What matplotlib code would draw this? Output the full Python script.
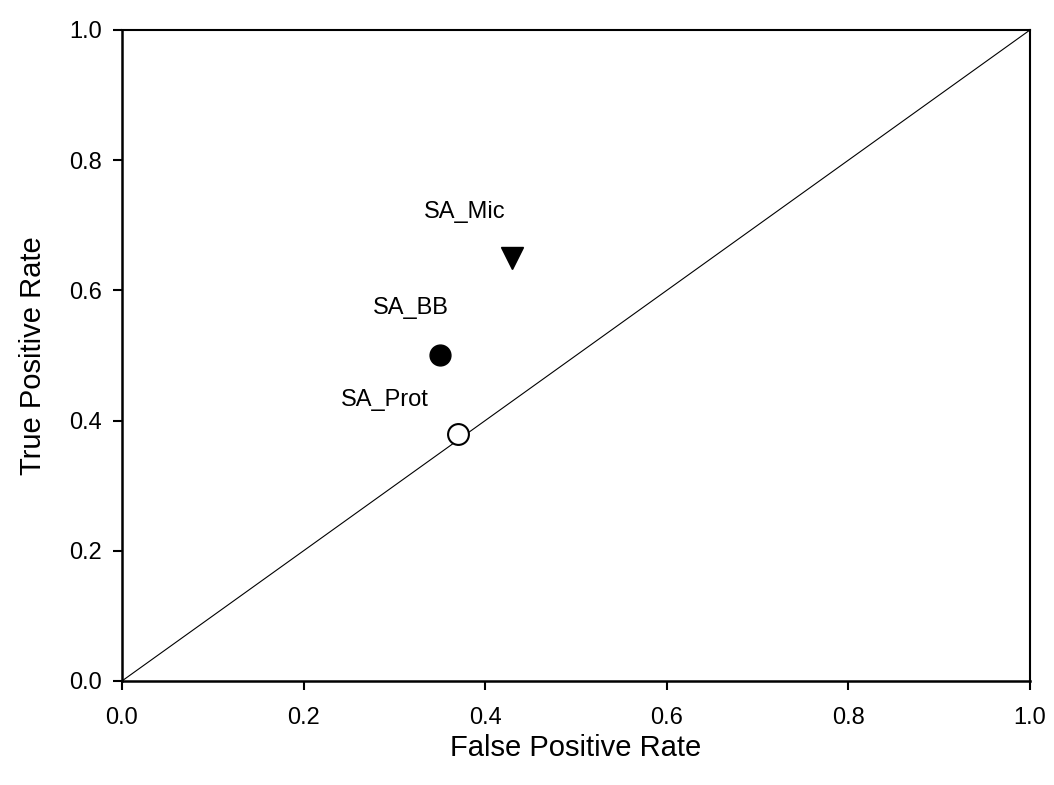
import matplotlib
matplotlib.use("Agg")
import matplotlib.pyplot as plt

# points
names = ["SA_Mic", "SA_BB", "SA_Prot"]
fpr = [0.43, 0.35, 0.37]
tpr = [0.65, 0.50, 0.38]
label_x = [0.378, 0.318, 0.290]
label_y = [0.72, 0.573, 0.432]
ticks = [0.0, 0.2, 0.4, 0.6, 0.8, 1.0]

plt.rcParams['font.family'] = ['Liberation Sans', 'DejaVu Sans']

fig = plt.figure(figsize=(10.54, 7.85), dpi=100)
ax = fig.add_axes([0.1157, 0.1325, 0.8615, 0.8293])

ax.plot([0, 1], [0, 1], color='black', linewidth=0.8)
ax.plot(fpr[0], tpr[0], marker='v', markersize=16, color='black', linestyle='none')
ax.plot(fpr[1], tpr[1], marker='o', markersize=15, color='black', linestyle='none')
ax.plot(fpr[2], tpr[2], marker='o', markersize=15, markerfacecolor='white',
        markeredgecolor='black', markeredgewidth=1.5, linestyle='none')

for n, x, y in zip(names, label_x, label_y):
    ax.text(x, y, n, ha='center', va='center', fontsize=17)

ax.set_xlim(0, 1)
ax.set_ylim(0, 1)
ax.set_xticks(ticks)
ax.set_yticks(ticks)
ax.set_xticklabels([f"{t:.1f}" for t in ticks])
ax.set_yticklabels([f"{t:.1f}" for t in ticks])
ax.tick_params(direction='out', length=6.5, width=1.5, labelsize=17)
ax.tick_params(axis='x', pad=12)
ax.tick_params(axis='y', pad=8)
for s in ax.spines.values():
    s.set_linewidth(1.8)
ax.spines['top'].set_linewidth(1.5)
ax.spines['right'].set_linewidth(1.5)

ax.set_xlabel("False Positive Rate", fontsize=21, labelpad=4)
ax.set_ylabel("True Positive Rate", fontsize=21, labelpad=16)

fig.savefig("out.png", dpi=100)
